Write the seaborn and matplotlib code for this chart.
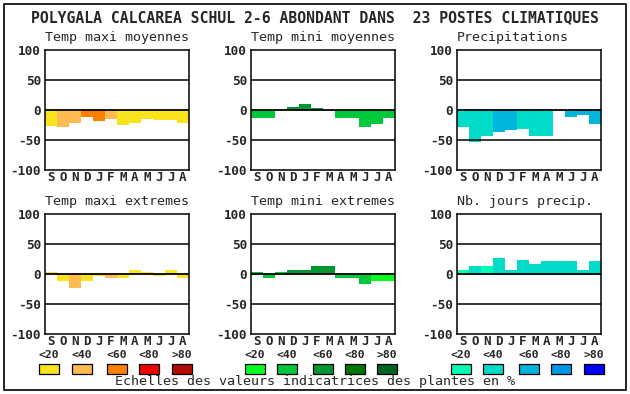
import matplotlib
matplotlib.use("Agg")
import matplotlib.pyplot as plt
import matplotlib.patches as mpatches
import seaborn as sns
import pandas as pd

sns.set_style("white")
plt.rcParams['font.family'] = ['DejaVu Sans Mono', 'DejaVu Sans']

months = ["S", "O", "N", "D", "J", "F", "M", "A", "M", "J", "J", "A"]
title = "POLYGALA CALCAREA SCHUL 2-6 ABONDANT DANS  23 POSTES CLIMATIQUES"
scale_labels = ["<20", "<40", "<60", "<80", ">80"]

orange_scale = ["#f8e31c", "#ffbb50", "#ff7f00", "#ee0000", "#b40a00"]
green_scale = ["#00ff20", "#00c83c", "#009632", "#007800", "#006420"]
blue_scale = ["#00ffb4", "#00dcc8", "#00b4dc", "#0096e6", "#0000ff"]

# values (%) and colour class index (0=<20 ... 4=>80)
tmax_moy = [-26, -28, -21, -12, -18, -15, -25, -21, -15, -16, -16, -21]
tmax_moy_cls = [0, 1, 1, 2, 2, 1, 0, 0, 0, 0, 0, 0]
tmin_moy = [-14, -13, 0, 5, 10, 3, 0, -14, -13, -28, -23, -13]
tmin_moy_cls = [1, 1, 1, 2, 2, 2, 1, 1, 1, 1, 1, 1]
precip = [-28, -54, -44, -36, -33, -31, -43, -44, 0, -11, -8, -23]
precip_cls = [1, 1, 1, 2, 2, 1, 1, 1, 1, 2, 2, 2]
tmax_ext = [3, -11, -24, -12, -4, -7, -6, 6, 3, -3, 6, -6]
tmax_ext_cls = [0, 0, 1, 0, 0, 1, 0, 0, 0, 0, 0, 0]
tmin_ext = [4, -6, 4, 7, 7, 13, 13, -6, -6, -16, -11, -12]
tmin_ext_cls = [1, 1, 1, 2, 2, 2, 2, 1, 1, 1, 0, 0]
nb_jours = [6, 13, 13, 26, 7, 24, 17, 21, 21, 22, 7, 22]
nb_jours_cls = [0, 1, 0, 1, 1, 1, 1, 1, 1, 1, 1, 1]

panels = [
    ("Temp maxi moyennes", tmax_moy, tmax_moy_cls, orange_scale),
    ("Temp mini moyennes", tmin_moy, tmin_moy_cls, green_scale),
    ("Precipitations", precip, precip_cls, blue_scale),
    ("Temp maxi extremes", tmax_ext, tmax_ext_cls, orange_scale),
    ("Temp mini extremes", tmin_ext, tmin_ext_cls, green_scale),
    ("Nb. jours precip.", nb_jours, nb_jours_cls, blue_scale),
]

W, H = 630, 394
fig = plt.figure(figsize=(W / 100, H / 100), dpi=100)

def fx(px):
    return px / W

def fy(py):
    return 1 - py / H

col_left = [45, 251, 457]
row_top = [50, 214]
aw, ah = 144, 120

# outer frame
fig.patches.append(mpatches.Rectangle((fx(4), fy(390)), fx(622), 386 / H,
                                      transform=fig.transFigure, fill=False,
                                      edgecolor="black", linewidth=1.2))

fig.text(fx(315), fy(18), title, ha="center", va="center",
         fontsize=10.6, fontweight="bold")

for i, (name, vals, cls, pal) in enumerate(panels):
    r, c = divmod(i, 3)
    left, top = col_left[c], row_top[r]
    ax = fig.add_axes([fx(left), fy(top + ah), aw / W, ah / H])
    df = pd.DataFrame({"pos": list(range(12)), "val": vals,
                       "cls": [scale_labels[k] for k in cls]})
    palette = {lab: col for lab, col in zip(scale_labels, pal)}
    sns.barplot(data=df, x="pos", y="val", hue="cls", palette=palette,
                hue_order=scale_labels, order=list(range(12)), dodge=False,
                width=1.0, saturation=1, legend=False, linewidth=0,
                edgecolor="none", ax=ax, zorder=2)
    ax.set_xlim(-0.5, 11.5)
    ax.set_ylim(-100, 100)
    for yv in (-50, 0, 50):
        ax.axhline(yv, color="black", linewidth=1.3 if yv == 0 else 1.1, zorder=3)
    ax.set_xlabel("")
    ax.set_ylabel("")
    ax.set_xticks(range(12))
    ax.set_xticklabels(months, fontsize=9, fontweight="bold")
    ax.set_yticks([-100, -50, 0, 50, 100])
    ax.set_yticklabels(["-100", "-50", "0", "50", "100"], fontsize=9.2,
                       fontweight="bold")
    ax.tick_params(axis="y", length=0, pad=3)
    ax.tick_params(axis="x", length=0, pad=1)
    for sp in ax.spines.values():
        sp.set_visible(True)
        sp.set_color("black")
        sp.set_linewidth(1.1)
    fig.text(fx(left), fy(top - 12), name, ha="left", va="center", fontsize=9.6)

# legend scales
sq_x = [[39, 72, 107, 139, 172], [245, 277, 313, 345, 377], [451, 483, 519, 551, 584]]
scales = [orange_scale, green_scale, blue_scale]
for g in range(3):
    for k in range(5):
        x0 = sq_x[g][k]
        fig.text(fx(x0 + 10), fy(355), scale_labels[k], ha="center", va="center",
                 fontsize=8.2, fontweight="bold")
        fig.patches.append(mpatches.Rectangle((fx(x0), fy(374)), 20 / W, 10 / H,
                                              transform=fig.transFigure,
                                              facecolor=scales[g][k],
                                              edgecolor="black", linewidth=0.9))

fig.text(fx(315), fy(382), "Echelles des valeurs indicatrices des plantes en %",
         ha="center", va="center", fontsize=9.6)

fig.savefig("out.png", dpi=100, facecolor="white")
